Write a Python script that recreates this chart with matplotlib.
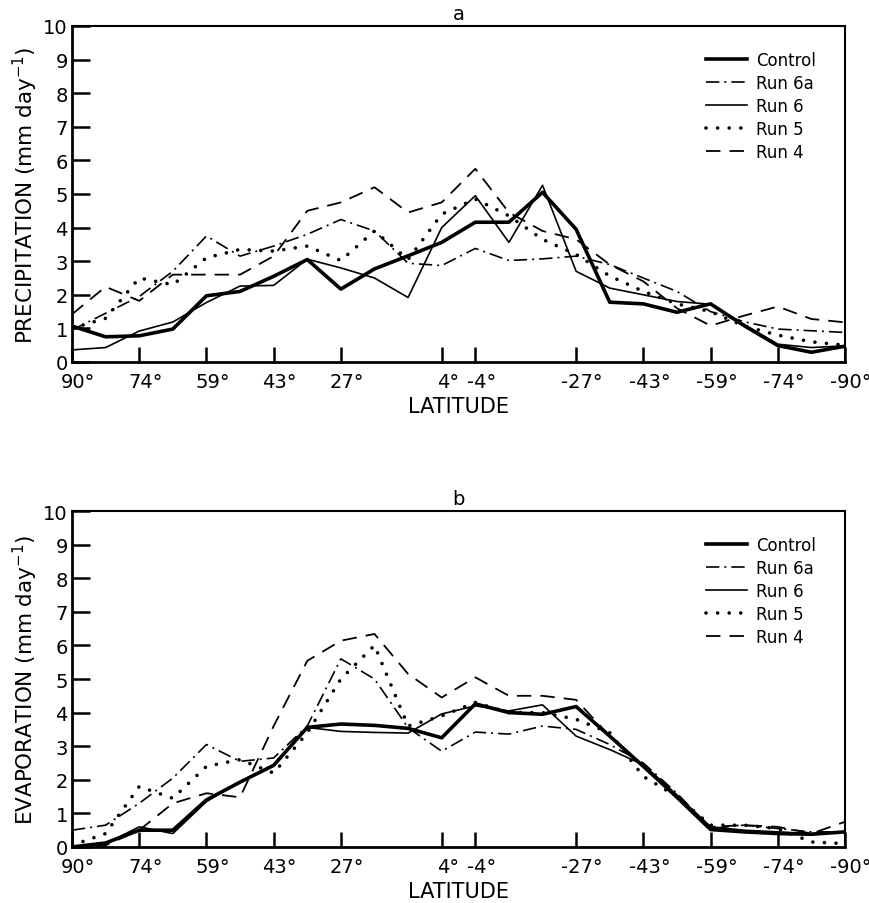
import numpy as np
import matplotlib
matplotlib.use("Agg")
import matplotlib.pyplot as plt
import matplotlib.transforms as mtransforms

plt.rcParams['font.family'] = ['DejaVu Sans']

# 24 latitude bands from 90N to 90S (index positions)
n_bands = 24
tick_idx = [0, 2, 4, 6, 8, 11, 12, 15, 17, 19, 21, 23]
tick_labels = ['90°', '74°', '59°', '43°', '27°', '4°', '-4°', '-27°', '-43°', '-59°', '-74°', '-90°']

series_names = ['Control', 'Run 6a', 'Run 6', 'Run 5', 'Run 4']

# Panel a: precipitation (mm/day)
precip_control = [1.07, 0.75, 0.78, 0.98, 1.97, 2.1, 2.55, 3.05, 2.17, 2.77, 3.16, 3.56,
                  4.16, 4.16, 5.05, 3.95, 1.78, 1.73, 1.48, 1.73, 1.08, 0.49, 0.29, 0.47]
precip_run6a = [0.95, 1.45, 1.95, 2.7, 3.75, 3.15, 3.45, 3.8, 4.24, 3.9, 2.94, 2.87,
                3.38, 3.02, 3.07, 3.15, 2.9, 2.5, 2.1, 1.5, 1.2, 0.98, 0.93, 0.88]
precip_run6 = [0.36, 0.43, 0.92, 1.19, 1.77, 2.26, 2.28, 3.06, 2.8, 2.5, 1.92, 4.0,
               4.95, 3.56, 5.26, 2.7, 2.2, 2.0, 1.8, 1.72, 1.12, 0.53, 0.43, 0.48]
precip_run5 = [1.0, 1.3, 2.5, 2.3, 3.1, 3.35, 3.3, 3.45, 3.02, 3.9, 3.05, 4.4,
               4.85, 4.35, 3.65, 3.2, 2.56, 2.1, 1.73, 1.5, 1.07, 0.8, 0.6, 0.5]
precip_run4 = [1.42, 2.24, 1.82, 2.6, 2.6, 2.6, 3.15, 4.5, 4.75, 5.2, 4.45, 4.75,
               5.75, 4.45, 3.9, 3.65, 2.9, 2.4, 1.6, 1.08, 1.38, 1.65, 1.28, 1.18]

# Panel b: evaporation (mm/day)
evap_control = [0.0, 0.12, 0.5, 0.5, 1.4, 1.93, 2.43, 3.56, 3.66, 3.62, 3.53, 3.25,
                4.26, 4.0, 3.95, 4.18, 3.3, 2.4, 1.48, 0.52, 0.45, 0.4, 0.38, 0.45]
evap_run6a = [0.5, 0.65, 1.3, 2.05, 3.05, 2.55, 2.65, 3.6, 5.6, 5.0, 3.55, 2.85,
              3.42, 3.36, 3.6, 3.5, 3.05, 2.5, 1.6, 0.55, 0.65, 0.55, 0.45, 0.45]
evap_run6 = [0.0, 0.1, 0.6, 0.4, 1.35, 1.95, 2.45, 3.56, 3.44, 3.41, 3.39, 3.96,
             4.2, 4.05, 4.23, 3.3, 2.9, 2.45, 1.55, 0.6, 0.5, 0.45, 0.4, 0.45]
evap_run5 = [0.05, 0.4, 1.8, 1.45, 2.4, 2.6, 2.2, 3.4, 5.0, 6.0, 3.6, 3.9,
             4.3, 4.0, 4.0, 3.8, 3.4, 2.1, 1.5, 0.65, 0.65, 0.55, 0.15, 0.1]
evap_run4 = [0.0, 0.05, 0.5, 1.3, 1.6, 1.48, 3.6, 5.54, 6.14, 6.34, 5.15, 4.45,
             5.05, 4.5, 4.5, 4.38, 3.3, 2.4, 1.5, 0.6, 0.65, 0.6, 0.4, 0.75]

styles = {
    'Control': dict(color='black', lw=2.6, ls='-'),
    'Run 6a': dict(color='black', lw=1.2, ls=(0, (8, 3, 1.2, 3))),
    'Run 6': dict(color='black', lw=1.2, ls='-'),
    'Run 5': dict(color='black', lw=2.6, ls=(0, (0.01, 3.2)), dash_capstyle='round'),
    'Run 4': dict(color='black', lw=1.3, ls=(0, (8, 5))),
}

W, H = 870, 904
fig = plt.figure(figsize=(W / 100, H / 100), dpi=100)

def make_axes(top_px, bottom_px):
    left_px, right_px = 72, 845
    return fig.add_axes([left_px / W, 1 - bottom_px / H,
                         (right_px - left_px) / W, (bottom_px - top_px) / H])

panels = [
    (make_axes(27, 363), 'a', r'PRECIPITATION (mm day$^{-1}$)',
     [precip_control, precip_run6a, precip_run6, precip_run5, precip_run4]),
    (make_axes(512, 848), 'b', r'EVAPORATION (mm day$^{-1}$)',
     [evap_control, evap_run6a, evap_run6, evap_run5, evap_run4]),
]

shift = mtransforms.ScaledTranslation(6 / 100, 0, fig.dpi_scale_trans)

x = np.arange(n_bands)
for ax, title, ylabel, data in panels:
    for name, vals in zip(series_names, data):
        ax.plot(x, vals, label=name, **styles[name])
    ax.set_xlim(0, n_bands - 1)
    ax.set_ylim(0, 10)
    ax.set_yticks(range(0, 11))
    ax.set_xticks(tick_idx)
    ax.set_xticklabels(tick_labels)
    ax.tick_params(axis='both', direction='in', width=1.8,
                   labelsize=14, top=False, right=False)
    ax.tick_params(axis='y', length=13, pad=3)
    ax.tick_params(axis='x', length=10.5, pad=7.5)
    for lab in ax.get_xticklabels():
        lab.set_transform(lab.get_transform() + shift)
    for side in ['left', 'bottom']:
        ax.spines[side].set_linewidth(2.0)
    for side in ['top', 'right']:
        ax.spines[side].set_linewidth(1.5)
    ax.set_title(title, fontsize=14, pad=5)
    ax.set_xlabel('LATITUDE', fontsize=15, labelpad=3)
    ax.set_ylabel(ylabel, fontsize=15.5, labelpad=2)
    ax.legend(loc='upper right', bbox_to_anchor=(0.975, 0.955), frameon=False,
              fontsize=12, handlelength=2.5, handletextpad=0.5,
              labelspacing=0.3, borderaxespad=0.2)

fig.savefig('out.png', dpi=100)
